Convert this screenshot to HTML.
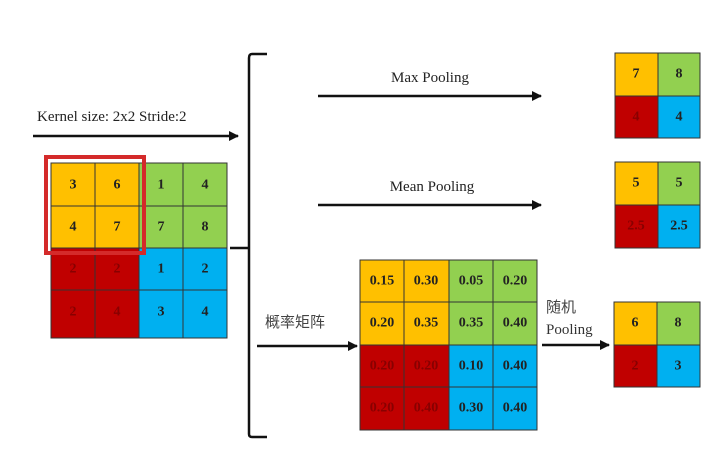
<!DOCTYPE html>
<html><head><meta charset="utf-8"><style>
body{margin:0;background:#fff;width:708px;height:451px;overflow:hidden}
svg text{font-family:"Liberation Serif","Noto Serif CJK SC",serif}
.n{font-weight:bold;font-size:14px;text-anchor:middle;dominant-baseline:central}
</style></head><body>
<svg width="708" height="451" xmlns="http://www.w3.org/2000/svg">
<defs><marker id="a" viewBox="0 0 10 10" refX="9" refY="5" markerWidth="4" markerHeight="4" orient="auto"><path d="M0,0L10,5L0,10z" fill="#111"/></marker></defs>
<g stroke="#333" stroke-width="1">
<rect x="51" y="163" width="88" height="85" fill="#FFC000"/>
<rect x="139" y="163" width="88" height="85" fill="#92D050"/>
<rect x="51" y="248" width="88" height="90" fill="#C00000"/>
<rect x="139" y="248" width="88" height="90" fill="#00B0F0"/>
<path d="M95 163V338M139 163V338M183 163V338M51 206H227M51 248H227M51 290H227" fill="none"/>
</g>
<rect x="46" y="157" width="98" height="96" fill="none" stroke="#D42A2A" stroke-width="4"/>
<g fill="#222">
<text class="n" x="73" y="185">3</text><text class="n" x="117" y="185">6</text><text class="n" x="161" y="185">1</text><text class="n" x="205" y="185">4</text>
<text class="n" x="73" y="227">4</text><text class="n" x="117" y="227">7</text><text class="n" x="161" y="227">7</text><text class="n" x="205" y="227">8</text>
<text class="n" x="73" y="269" fill="#800">2</text><text class="n" x="117" y="269" fill="#800">2</text><text class="n" x="161" y="269">1</text><text class="n" x="205" y="269">2</text>
<text class="n" x="73" y="312" fill="#800">2</text><text class="n" x="117" y="312" fill="#800">4</text><text class="n" x="161" y="312">3</text><text class="n" x="205" y="312">4</text>
</g>
<text x="37" y="121" font-size="15" fill="#222">Kernel size: 2x2 Stride:2</text>
<line x1="33" y1="136" x2="238" y2="136" stroke="#111" stroke-width="2.5" marker-end="url(#a)"/>
<path d="M267 54H252Q249 54 249 58V434Q249 437 252 437H267M230 248H249" fill="none" stroke="#111" stroke-width="2.5"/>
<text x="430" y="82" font-size="15" text-anchor="middle" fill="#222">Max Pooling</text>
<line x1="318" y1="96" x2="541" y2="96" stroke="#111" stroke-width="2.5" marker-end="url(#a)"/>
<text x="432" y="191" font-size="15" text-anchor="middle" fill="#222">Mean Pooling</text>
<line x1="318" y1="205" x2="541" y2="205" stroke="#111" stroke-width="2.5" marker-end="url(#a)"/>
<g stroke="#333" stroke-width="1">
<rect x="615" y="53" width="43" height="43" fill="#FFC000"/><rect x="658" y="53" width="42" height="43" fill="#92D050"/>
<rect x="615" y="96" width="43" height="42" fill="#C00000"/><rect x="658" y="96" width="42" height="42" fill="#00B0F0"/>
<rect x="615" y="162" width="43" height="43" fill="#FFC000"/><rect x="658" y="162" width="42" height="43" fill="#92D050"/>
<rect x="615" y="205" width="43" height="43" fill="#C00000"/><rect x="658" y="205" width="42" height="43" fill="#00B0F0"/>
<rect x="614" y="302" width="43" height="43" fill="#FFC000"/><rect x="657" y="302" width="43" height="43" fill="#92D050"/>
<rect x="614" y="345" width="43" height="42" fill="#C00000"/><rect x="657" y="345" width="43" height="42" fill="#00B0F0"/>
</g>
<g fill="#222">
<text class="n" x="636" y="74">7</text><text class="n" x="679" y="74">8</text><text class="n" x="636" y="117" fill="#800">4</text><text class="n" x="679" y="117">4</text>
<text class="n" x="636" y="183">5</text><text class="n" x="679" y="183">5</text><text class="n" x="636" y="226" fill="#800">2.5</text><text class="n" x="679" y="226">2.5</text>
<text class="n" x="635" y="323">6</text><text class="n" x="678" y="323">8</text><text class="n" x="635" y="366" fill="#800">2</text><text class="n" x="678" y="366">3</text>
</g>
<g stroke="#333" stroke-width="1">
<rect x="360" y="260" width="89" height="85" fill="#FFC000"/><rect x="449" y="260" width="88" height="85" fill="#92D050"/>
<rect x="360" y="345" width="89" height="85" fill="#C00000"/><rect x="449" y="345" width="88" height="85" fill="#00B0F0"/>
<path d="M404 260V430M449 260V430M493 260V430M360 302H537M360 345H537M360 387H537" fill="none"/>
</g>
<g fill="#222">
<text class="n" x="382" y="281">0.15</text><text class="n" x="426" y="281">0.30</text><text class="n" x="471" y="281">0.05</text><text class="n" x="515" y="281">0.20</text>
<text class="n" x="382" y="323">0.20</text><text class="n" x="426" y="323">0.35</text><text class="n" x="471" y="323">0.35</text><text class="n" x="515" y="323">0.40</text>
<text class="n" x="382" y="366" fill="#800">0.20</text><text class="n" x="426" y="366" fill="#800">0.20</text><text class="n" x="471" y="366">0.10</text><text class="n" x="515" y="366">0.40</text>
<text class="n" x="382" y="408" fill="#800">0.20</text><text class="n" x="426" y="408" fill="#800">0.40</text><text class="n" x="471" y="408">0.30</text><text class="n" x="515" y="408">0.40</text>
</g>
<text x="265" y="327" font-size="15" fill="#444" style="font-family:'Noto Sans CJK SC',sans-serif">概率矩阵</text>
<line x1="257" y1="346" x2="357" y2="346" stroke="#111" stroke-width="2.5" marker-end="url(#a)"/>
<text x="546" y="312" font-size="15" fill="#444" style="font-family:'Noto Sans CJK SC',sans-serif">随机</text>
<text x="546" y="334" font-size="15" fill="#333">Pooling</text>
<line x1="542" y1="345" x2="609" y2="345" stroke="#111" stroke-width="2.5" marker-end="url(#a)"/>
</svg>
</body></html>
